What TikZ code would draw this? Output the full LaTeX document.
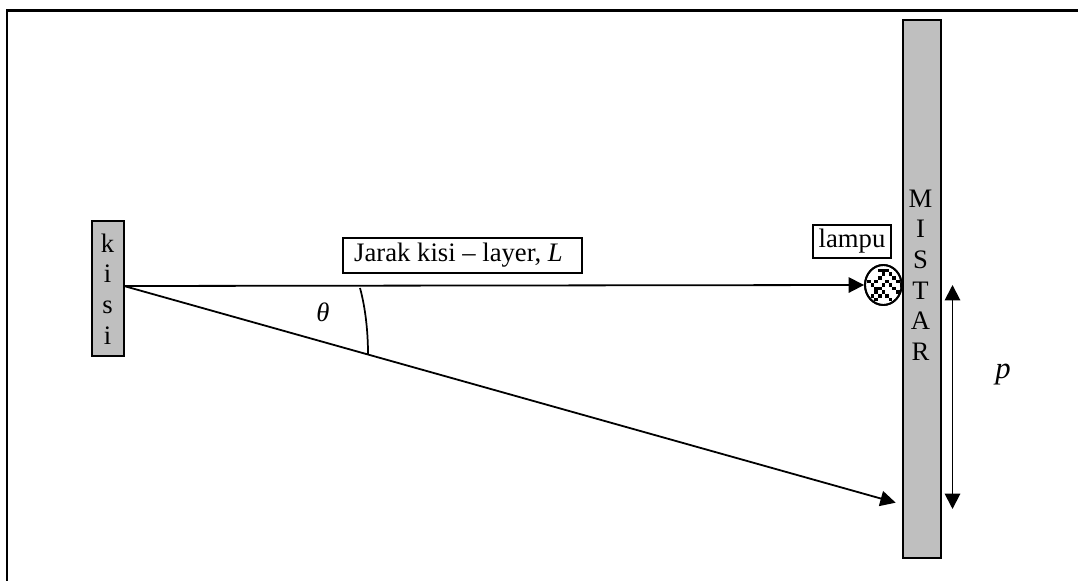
\documentclass[tikz,border=0pt]{standalone}
\usepackage{fontspec}
\setmainfont{Liberation Serif}
\usetikzlibrary{arrows.meta,shapes.geometric}
\tikzset{
  px/.style={x=0.75pt,y=-0.75pt},
  frameline/.style={line width=1.6pt,black},
  bar/.style={draw=black,fill=black!25,line width=1.4pt,inner sep=0pt},
  labelbox/.style={draw=black,fill=white,line width=1.4pt,inner sep=0pt,font=\fontsize{20}{23}\selectfont},
  txt/.style={inner sep=0pt,font=\fontsize{20}{23}\selectfont,align=center},
  ray/.style={line width=1.35pt,-{Triangle[length=11.5pt,width=11.5pt]}},
  measure/.style={line width=1.45pt,{Triangle[length=11.5pt,width=11.5pt]}-{Triangle[length=11.5pt,width=11.5pt]}}
}
\begin{document}
\begin{tikzpicture}[px]
\useasboundingbox (0,0) rectangle (1078,581);
\fill[white] (0,0) rectangle (1078,581);
% open frame
\coordinate (fa) at (7,581);
\coordinate (fb) at (7,10.5);
\coordinate (fc) at (1078,10.5);
\draw[frameline,line cap=butt,line join=miter] (fa) -- (fb) -- (fc);
% bars
\node[bar,minimum width=24pt,minimum height=101pt] (kisi) at (108,288.5) {};
\node[txt] (kisitext) at (107.5,289) {k\\i\\s\\i};
\node[bar,minimum width=28pt,minimum height=403.5pt] (mistar) at (922,289) {};
\node[txt] (mistartext) at (920.5,275) {M\\I\\S\\T\\A\\R};
% lamp
\node[draw=black,fill=white,line width=1.4pt,ellipse,inner sep=0pt,minimum width=27.5pt,minimum height=30pt] (lampuc) at (883.3,285) {};
\begin{scope}
\clip (883.3,285) ellipse [x radius=18.3,y radius=20];
\foreach \i/\j in {1/-4,0/-4,-1/-4,0/-3,-1/-2,-2/-1,
  2/-3,3/-2,4/-1,5/0,
  -4/-1,-3/0,-2/1,
  0/0,-1/1,-2/2,-3/3,
  1/-1,2/0,3/1,4/2,
  0/2,1/3,2/4,-1/3,-2/4}
  \fill[black] ({883.3+3.6*\i-1.8},{285+3.6*\j-1.8}) rectangle ++(3.6,3.6);
\end{scope}
\draw[line width=1.4pt] (883.3,285) ellipse [x radius=18.3,y radius=20];
% origin and rays
\coordinate (o) at (124,286);
\coordinate (tipb) at (895.7,502.7);
\draw[ray] (o) -- (lampuc.west);
\draw[ray] (o) -- (tipb);
% angle
\coordinate (aa) at (360,288);
\coordinate (ab) at (368,354);
\draw[line width=1.3pt] (aa) .. controls (365.5,308) and (368,332) .. (ab);
% labels
\node[labelbox,minimum width=179pt,minimum height=26pt] (jarak) at (462.5,255.5) {\hspace*{-6pt}Jarak kisi – layer, \textit{L}};
\node[labelbox,minimum width=58.5pt,minimum height=25pt] (lampu) at (852,241.5) {lampu};
\node[inner sep=0pt,font=\fontsize{20}{23}\selectfont\itshape] (theta) at (323,312.5) {θ};
\node[inner sep=0pt,font=\fontsize{23}{26}\selectfont\itshape] (p) at (1003,374.5) {p};
% measure arrow
\coordinate (pa) at (952.5,285);
\coordinate (pb) at (952.5,509);
\draw[measure] (pa) -- (pb);
\end{tikzpicture}
\end{document}
